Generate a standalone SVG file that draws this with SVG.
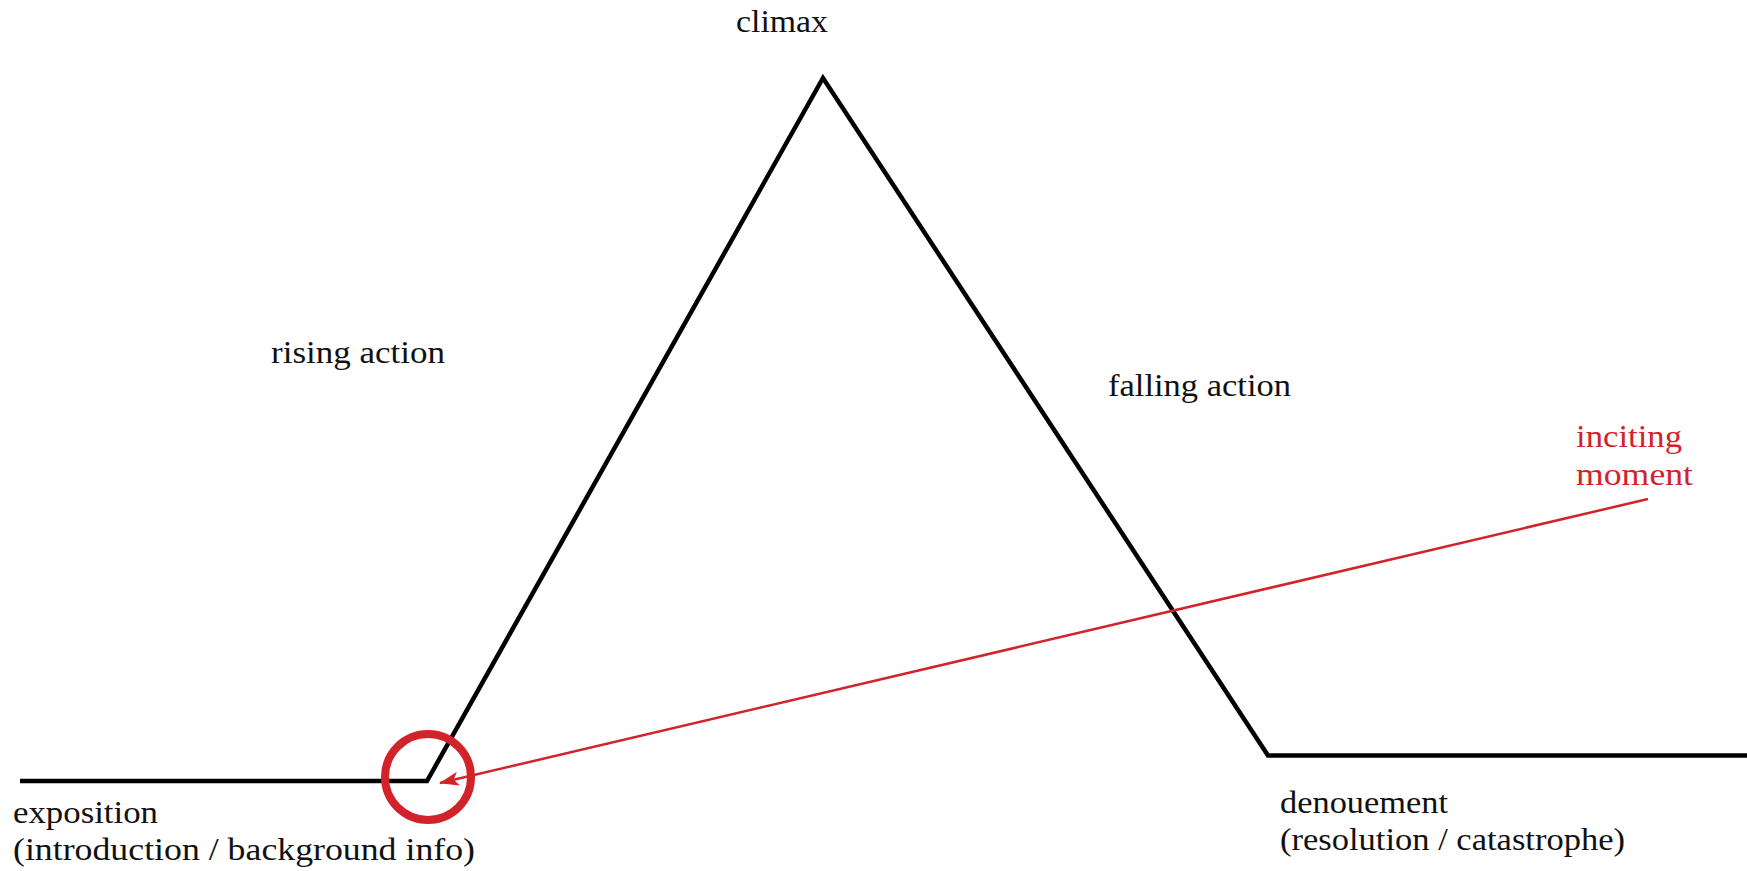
<svg xmlns="http://www.w3.org/2000/svg" width="1747" height="871" viewBox="0 0 1747 871">
<style>
text{font-family:'Liberation Serif','Times New Roman',Times,serif;font-size:32px;fill:#111}
.red{fill:#d2232a}
.plot{fill:none;stroke:#000;stroke-width:4.5;stroke-linejoin:miter}
.conn{fill:none;stroke:#d2232a;stroke-width:2.5}
</style>
<defs>
<marker id="arr" viewBox="0 0 20 14" refX="19" refY="7" markerWidth="20" markerHeight="14" markerUnits="userSpaceOnUse" orient="auto">
<path d="M0,0 L20,7 L0,14 L5,7 Z" fill="#d2232a"/>
</marker>
</defs>
<rect width="1747" height="871" fill="#fff"/>
<g id="plot">
<polyline class="plot" points="20,781 427,781 823,78 1268,755.5 1747,755.5"/>
</g>
<g id="marker-circle">
<circle cx="428" cy="777" r="43" fill="none" stroke="#d2232a" stroke-width="8"/>
</g>
<g id="connectors">
<line class="conn" x1="1648" y1="499" x2="440" y2="783" marker-end="url(#arr)"/>
</g>
<g id="climax"><text x="736" y="32" textLength="92" lengthAdjust="spacingAndGlyphs">climax</text></g>
<g id="rising"><text x="271" y="363" textLength="174" lengthAdjust="spacingAndGlyphs">rising action</text></g>
<g id="falling"><text x="1108" y="396" textLength="183" lengthAdjust="spacingAndGlyphs">falling action</text></g>
<g id="exposition">
<text x="13" y="823" textLength="145" lengthAdjust="spacingAndGlyphs">exposition</text>
<text x="13" y="860" textLength="462" lengthAdjust="spacingAndGlyphs">(introduction / background info)</text>
</g>
<g id="denouement">
<text x="1280" y="813" textLength="168" lengthAdjust="spacingAndGlyphs">denouement</text>
<text x="1280" y="850" textLength="345" lengthAdjust="spacingAndGlyphs">(resolution / catastrophe)</text>
</g>
<g id="inciting">
<text class="red" x="1576" y="447" textLength="106" lengthAdjust="spacingAndGlyphs">inciting</text>
<text class="red" x="1576" y="485" textLength="117" lengthAdjust="spacingAndGlyphs">moment</text>
</g>
</svg>
